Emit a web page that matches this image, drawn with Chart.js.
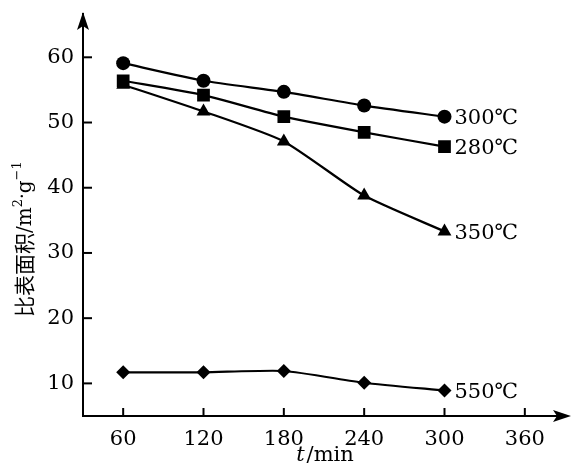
<!DOCTYPE html>
<html>
<head>
<meta charset="utf-8">
<script src="https://cdn.jsdelivr.net/npm/chart.js@4/dist/chart.umd.min.js"></script>
<style>
  html, body { margin: 0; padding: 0; background: #fff; }
  #wrap { width: 574px; height: 470px; }
</style>
</head>
<body>
<div id="wrap"><canvas id="chart" width="574" height="470"></canvas></div>
<script>
// time in minutes
const times = [60, 120, 180, 240, 300]
// specific surface area, m2/g
const s300 = [59.1, 56.4, 54.7, 52.6, 50.9]
const s280 = [56.4, 54.2, 50.9, 48.5, 46.3]
const s350 = [55.8, 51.7, 47.1, 38.8, 33.3]
const s550 = [11.7, 11.7, 11.9, 10.1, 8.9]
const seriesNames = ['300℃', '280℃', '350℃', '550℃']
const xTicks = [60, 120, 180, 240, 300, 360]
const yTicks = [10, 20, 30, 40, 50, 60]

const serif = '"DejaVu Serif", "Liberation Serif", serif'

const pts = arr => arr.map((v, i) => ({ x: times[i], y: v }))

const makeSet = (name, arr, style, r) => ({
  label: name,
  data: pts(arr),
  borderColor: '#000',
  backgroundColor: '#000',
  borderWidth: 2.2,
  pointStyle: style,
  pointRadius: r,
  pointBorderWidth: 0,
  tension: 0.2
})

// draw a run of text pieces one after another, returns end x
const drawRun = (ctx, pieces, x, y) => {
  pieces.forEach(p => {
    ctx.font = p.font
    ctx.fillText(p.text, x, y + (p.dy || 0))
    x += ctx.measureText(p.text).width + (p.gap || 0)
  })
  return x
}

// inward ticks, arrows, axis titles and end labels
const extras = {
  id: 'extras',
  afterDraw(chart) {
    const ctx = chart.ctx
    const xs = chart.scales.x
    const ys = chart.scales.y
    const a = chart.chartArea
    ctx.save()
    ctx.strokeStyle = '#000'
    ctx.fillStyle = '#000'
    ctx.lineWidth = 2
    // ticks
    xTicks.forEach(t => {
      const px = xs.getPixelForValue(t)
      ctx.beginPath(); ctx.moveTo(px, a.bottom); ctx.lineTo(px, a.bottom - 8); ctx.stroke()
    })
    yTicks.forEach(t => {
      const py = ys.getPixelForValue(t)
      ctx.beginPath(); ctx.moveTo(a.left, py); ctx.lineTo(a.left + 9, py); ctx.stroke()
    })
    // y axis runs on above the chart area up to its arrow
    const tipY = 12
    ctx.beginPath(); ctx.moveTo(a.left, a.top); ctx.lineTo(a.left, tipY + 10); ctx.stroke()
    ctx.beginPath()
    ctx.moveTo(a.left, tipY); ctx.lineTo(a.left - 6, tipY + 18); ctx.lineTo(a.left, tipY + 14); ctx.lineTo(a.left + 6, tipY + 18)
    ctx.closePath(); ctx.fill()
    ctx.beginPath()
    ctx.moveTo(a.right + 6, a.bottom); ctx.lineTo(a.right - 12, a.bottom - 6); ctx.lineTo(a.right - 8, a.bottom); ctx.lineTo(a.right - 12, a.bottom + 6)
    ctx.closePath(); ctx.fill()
    // end labels
    ctx.font = '21px ' + serif
    ctx.textBaseline = 'middle'
    ctx.textAlign = 'left'
    chart.data.datasets.forEach((ds, i) => {
      const p = chart.getDatasetMeta(i).data[ds.data.length - 1]
      ctx.fillText(ds.label, p.x + 10, p.y + 2)
    })
    // x title
    ctx.textBaseline = 'alphabetic'
    const xt = [
      { text: 't', font: 'italic 21px ' + serif, gap: 2 },
      { text: '/min', font: '21px ' + serif }
    ]
    let w = 0
    xt.forEach(p => { ctx.font = p.font; w += ctx.measureText(p.text).width + (p.gap || 0) })
    drawRun(ctx, xt, 325 - w / 2, 461)
    // y title
    ctx.translate(0, 317)
    ctx.rotate(-Math.PI / 2)
    drawRun(ctx, [
      { text: '比表面积', font: '21px "Noto Sans CJK SC", sans-serif', dy: 1 },
      { text: '/m', font: '20px ' + serif },
      { text: '2', font: '13px ' + serif, dy: -9 },
      { text: '·', font: '18px ' + serif, dy: -3 },
      { text: 'g', font: '20px ' + serif },
      { text: '−1', font: '13px ' + serif, dy: -10 }
    ], 0, 31)
    ctx.restore()
  }
}

new Chart(document.getElementById('chart').getContext('2d'), {
  type: 'line',
  data: {
    datasets: [
      makeSet(seriesNames[0], s300, 'circle', 7),
      makeSet(seriesNames[1], s280, 'rect', 9),
      makeSet(seriesNames[2], s350, 'triangle', 8),
      makeSet(seriesNames[3], s550, 'rectRot', 7)
    ]
  },
  options: {
    responsive: false,
    animation: false,
    layout: { padding: { top: 1, right: 9, left: 0, bottom: 0 } },
    plugins: { legend: { display: false }, tooltip: { enabled: false } },
    scales: {
      x: {
        type: 'linear',
        min: 30,
        max: 390,
        afterBuildTicks: s => { s.ticks = xTicks.map(v => ({ value: v })) },
        afterFit: s => { s.height = 54 },
        grid: { display: false },
        border: { display: true, color: '#000', width: 2 },
        ticks: { color: '#000', font: { family: serif, size: 21 }, padding: 3 }
      },
      y: {
        min: 5,
        max: 66.7,
        afterBuildTicks: s => { s.ticks = yTicks.map(v => ({ value: v })) },
        afterFit: s => { s.width = 83 },
        grid: { display: false },
        border: { display: true, color: '#000', width: 2 },
        ticks: { color: '#000', font: { family: serif, size: 21 }, padding: 1 }
      }
    }
  },
  plugins: [extras]
})
</script>
</body>
</html>
